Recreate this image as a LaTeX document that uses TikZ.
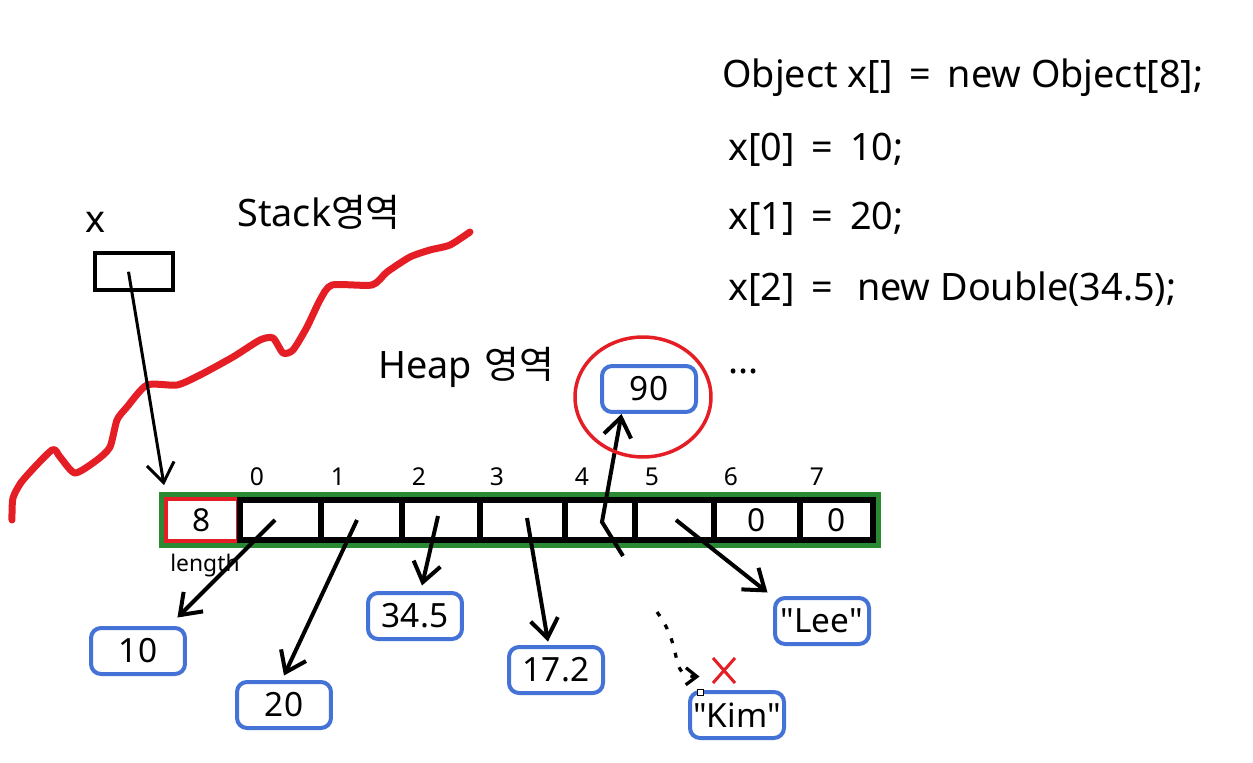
\documentclass[tikz,border=0pt]{standalone}
\usepackage{fontspec}
\setmainfont{Noto Sans}
\newfontfamily\kr{Noto Sans CJK KR}
\usetikzlibrary{positioning,calc,arrows.meta}
\definecolor{memblue}{RGB}{68,114,214}
\definecolor{memred}{RGB}{228,30,36}
\definecolor{memgreen}{RGB}{42,138,52}
\newcommand{\gap}{\hspace{0.14cm}}
\tikzset{
  valbox/.style={draw=memblue, line width=0.08cm, rounded corners=0.2cm, minimum width=1.88cm, minimum height=0.92cm, inner sep=0pt, font=\fontsize{19}{21}\selectfont},
  cell/.style={draw, line width=0.12cm, minimum height=0.8cm, inner sep=0pt, outer sep=0pt},
  cellval/.style={font=\fontsize{18}{20}\selectfont},
  idx/.style={font=\fontsize{14}{16}\selectfont},
  ptr/.style={line width=0.08cm, -{Straight Barb[length=0.38cm, width=0.55cm]}},
  code/.style={anchor=base west, inner sep=0pt, font=\fontsize{21.5}{25}\selectfont},
}
\begin{document}
\begin{tikzpicture}[x=0.02cm, y=-0.02cm]
\useasboundingbox (0,0) rectangle (1253,763);
\draw[memred, line width=0.14cm, line cap=round, line join=round] plot[smooth, tension=0.4] coordinates {(12,520) (13,498) (23,480) (52,450) (60,457) (75,473) (97,460) (110,447) (117,420) (127,407) (147,385) (177,385) (200,375) (233,357) (260,340) (273,338) (283,353) (293,350) (307,327) (320,300) (332,285) (372,285) (387,272) (410,257) (430,250) (450,245) (470,232)};

\node[code] (decl) at (722,88) {Object x[] \gap= \gap new Object[8];};
\node[code] (set0) at (728,161) {x[0] \gap= \gap 10;};
\node[code] (set1) at (728,230) {x[1] \gap= \gap 20;};
\node[code] (set2) at (728,300) {x[2] \gap= \hspace{0.28cm}new Double(34.5);};
\node[code] (more) at (728,373) {...};

\node[code] (xname) at (85,233) {x};
\node[code] (stacklbl) at (237,227) {Stack{\kr 영역}};
\node[code] (heaplbl) at (378,378) {Heap\hspace{0.06cm} {\kr 영역}};
\node[draw, line width=0.08cm, minimum width=1.58cm, minimum height=0.75cm, inner sep=0pt] (xbox) at (134,271.75) {};

\node[draw=memgreen, line width=0.1cm, minimum width=14.35cm, minimum height=1.02cm, inner sep=0pt] (arr) at (520.25,520) {};
\node[draw=memred, line width=0.08cm, minimum width=1.44cm, minimum height=0.84cm, inner sep=0pt, cellval] (len) at (202,520) {8};
\foreach \a/\b [count=\i from 0] in {240/321,321/402,402/480,480/565,565/635,635/714,714/800,800/873} {
  \pgfmathsetmacro\w{(\b-\a)*0.02}
  \node[cell, minimum width=\w cm] (c\i) at ({(\a+\b)/2},520) {};
  \node[idx] at ($(c\i.north west)+(17,-23)$) {\i};
}
\node[cellval] at (c6) {0};
\node[cellval] at (c7) {0};
\node[font=\fontsize{13}{15}\selectfont] (lenlbl) at (205,566) {length};

\node[valbox] (v10) at (138,651) {10};
\node[valbox] (v20) at (284,705) {20};
\node[valbox] (v345) at (415,616) {34.5};
\node[valbox] (v172) at (556,670) {17.2};
\node[valbox] (v90) at (649,389) {90};
\node[valbox] (vlee) at (822,621) {\textquotedbl Lee\textquotedbl};
\node[valbox] (vkim) at (737,715) {\textquotedbl Kim\textquotedbl};

\draw[ptr, line width=0.06cm] ([xshift=-0.11cm]xbox.center) -- ([yshift=0.24cm]len.north west);
\draw[ptr] ([xshift=-0.11cm]c0.center) -- ([xshift=-0.19cm,yshift=0.17cm]v10.north east);
\draw[ptr] ([xshift=-0.09cm]c1.center) -- ([yshift=0.09cm]v20.north);
\draw[ptr] ([xshift=-0.06cm,yshift=0.08cm]c2.center) -- ([xshift=0.14cm,yshift=0.11cm]v345.north);
\draw[ptr] ([xshift=0.09cm,yshift=0.04cm]c3.center) -- ([xshift=-0.16cm,yshift=0.07cm]v172.north);
\draw[ptr] ([xshift=0.46cm,yshift=-0.72cm]c4.center) -- ([xshift=0.04cm,yshift=-0.04cm]c4.center) -- ([xshift=0.43cm]v90.south west);
\draw[ptr] ([xshift=0.03cm]c5.center) -- ([xshift=-0.11cm,yshift=0.07cm]vlee.north west);
\coordinate (kimold) at (657,612);
\draw[line width=0.065cm, dash pattern=on 0.1cm off 0.2cm, -{Straight Barb[length=0.22cm, width=0.34cm]}] (kimold) .. controls (685,650) and (668,676) .. ([xshift=0.23cm,yshift=0.27cm]vkim.north west);

\draw[memred, line width=0.07cm] (643,397) ellipse [x radius=1.36cm, y radius=1.2cm];
\draw[memred, line width=0.06cm] (713,658) -- (735,683) (735,658) -- (713,683);
\draw[line width=0.4pt, fill=white] (697,689) rectangle (703,695);
\end{tikzpicture}
\end{document}
